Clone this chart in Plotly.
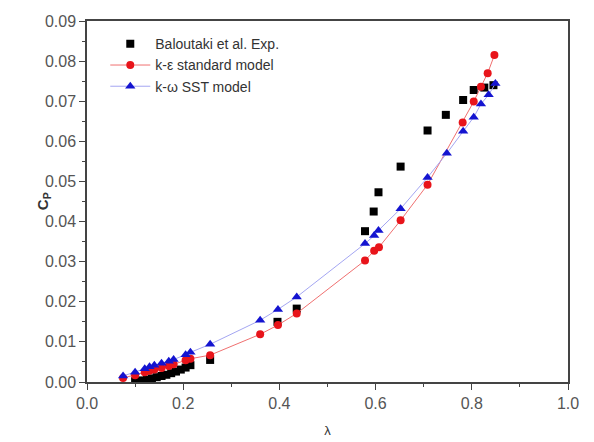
import plotly.graph_objects as go

# Experimental (Baloutaki et al.)
exp_lambda = [0.100, 0.115, 0.125, 0.135, 0.145, 0.155, 0.165, 0.175, 0.185, 0.195, 0.205, 0.215,
              0.256, 0.396, 0.436, 0.578, 0.596, 0.606, 0.652, 0.708, 0.746, 0.782, 0.804, 0.826, 0.845]
exp_cp = [0.0002, 0.0004, 0.0006, 0.0009, 0.0012, 0.0015, 0.0018, 0.0022, 0.0026, 0.0031, 0.0036, 0.0042,
          0.0055, 0.0150, 0.0183, 0.0376, 0.0425, 0.0473, 0.0537, 0.0627, 0.0666, 0.0703, 0.0728, 0.0734, 0.0740]

# k-epsilon standard model
ke_lambda = [0.075, 0.100, 0.120, 0.130, 0.140, 0.155, 0.170, 0.180, 0.205, 0.215, 0.256, 0.360, 0.397,
             0.436, 0.578, 0.597, 0.607, 0.652, 0.708, 0.781, 0.804, 0.819, 0.833, 0.847]
ke_cp = [0.0010, 0.0017, 0.0024, 0.0028, 0.0031, 0.0035, 0.0040, 0.0044, 0.0054, 0.0058, 0.0067, 0.0119,
         0.0142, 0.0171, 0.0303, 0.0327, 0.0336, 0.0403, 0.0492, 0.0647, 0.0699, 0.0736, 0.0770, 0.0815]

# k-omega SST model
kw_lambda = [0.075, 0.100, 0.120, 0.130, 0.140, 0.155, 0.170, 0.180, 0.205, 0.215, 0.256, 0.360, 0.397,
             0.436, 0.578, 0.597, 0.606, 0.652, 0.708, 0.748, 0.782, 0.804, 0.819, 0.835, 0.849]
kw_cp = [0.0015, 0.0024, 0.0033, 0.0038, 0.0042, 0.0047, 0.0052, 0.0056, 0.0068, 0.0074, 0.0094, 0.0154,
         0.0181, 0.0212, 0.0345, 0.0365, 0.0378, 0.0432, 0.0510, 0.0570, 0.0625, 0.0660, 0.0693, 0.0716, 0.0744]

font_family = "Liberation Sans, Arial, sans-serif"

fig = go.Figure()
fig.add_trace(go.Scatter(x=exp_lambda, y=exp_cp, mode="markers", name="Baloutaki et al. Exp.",
                         marker=dict(symbol="square", size=8, color="black")))
fig.add_trace(go.Scatter(x=ke_lambda, y=ke_cp, mode="lines+markers", name="k-ε standard model",
                         line=dict(color="#f07070", width=1),
                         marker=dict(symbol="circle", size=8, color="#e8141a")))
fig.add_trace(go.Scatter(x=kw_lambda, y=kw_cp, mode="lines+markers", name="k-ω SST model",
                         line=dict(color="#a4a6f2", width=1),
                         marker=dict(symbol="triangle-up", size=9, color="#1414d0")))

axis_common = dict(showline=True, linecolor="#444", linewidth=1.5, mirror=True,
                   ticks="outside", ticklen=6, tickwidth=1.2, tickcolor="#444",
                   showgrid=False, zeroline=False, automargin=False,
                   tickfont=dict(family=font_family, size=16, color="#555"))

fig.update_xaxes(range=[0, 1], dtick=0.2, tickformat=".1f",
                 minor=dict(ticks="outside", ticklen=3, dtick=0.1, tickcolor="#444"),
                 title=dict(text="λ", font=dict(family=font_family, size=13, color="#333"), standoff=15),
                 **axis_common)
fig.update_yaxes(range=[0, 0.09], dtick=0.01, tickformat=".2f",
                 minor=dict(ticks="outside", ticklen=3, dtick=0.005, tickcolor="#444"),
                 **axis_common)

fig.add_annotation(text="<b>C<sub>P</sub></b>", xref="paper", yref="paper",
                   x=-0.09, y=0.5, xanchor="center", yanchor="middle", textangle=-90,
                   showarrow=False, font=dict(family=font_family, size=15, color="#333"))

fig.update_layout(
    width=594, height=442,
    margin=dict(l=79, r=34, t=13, b=68),
    plot_bgcolor="white", paper_bgcolor="white",
    font=dict(family=font_family, size=13, color="#333"),
    legend=dict(x=0.038, y=0.98, xanchor="left", yanchor="top", bgcolor="rgba(0,0,0,0)",
                itemwidth=40,
                font=dict(family=font_family, size=14, color="#333"), tracegroupgap=0),
)

fig.write_html("out.html")
